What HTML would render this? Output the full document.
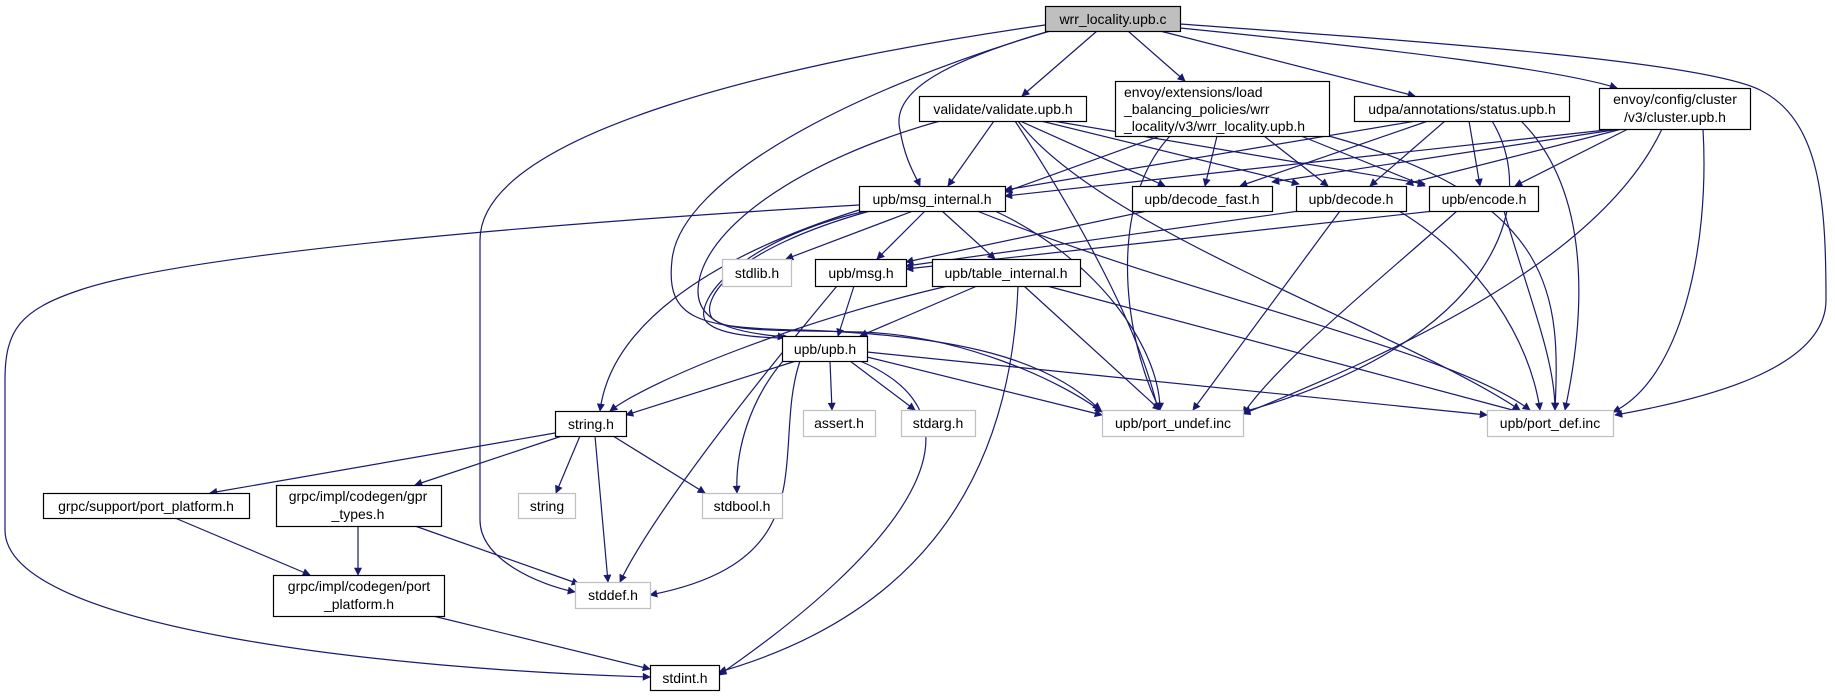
<!DOCTYPE html>
<html><head><meta charset="utf-8"><style>
html,body{margin:0;padding:0;background:#fff}
svg text{font-family:"Liberation Sans",sans-serif;font-size:14px;fill:#000}
</style></head><body>
<svg width="1835" height="693" viewBox="0 0 1835 693" xmlns="http://www.w3.org/2000/svg">
<defs><marker id="a" viewBox="0 0 10 10" refX="9" refY="5" markerWidth="10" markerHeight="8" markerUnits="userSpaceOnUse" orient="auto"><path d="M0,0L10,5L0,10z" fill="#191970"/></marker></defs>
<g fill="none" stroke="#191970" stroke-width="1.2" marker-end="url(#a)">
<path d="M1097,31L1022,96"/>
<path d="M1128,31L1185,81"/>
<path d="M1160,31L1415,96"/>
<path d="M1180,28C1400,50 1560,70 1617,88"/>
<path d="M1180,24C1400,40 1700,60 1760,90C1820,120 1826,200 1826,300C1826,370 1700,400 1615,415"/>
<path d="M1050,31C850,90 680,180 672,260C665,320 700,328 800,330C960,335 1050,360 1100,410"/>
<path d="M1045,25C800,60 480,130 480,240L480,520C480,560 540,585 575,592"/>
<path d="M1050,31C950,60 890,90 900,130C905,160 915,175 920,186"/>
<path d="M994,121L948,186"/>
<path d="M1020,121L1165,186"/>
<path d="M1041,121L1299,184"/>
<path d="M1053,121L1425,184"/>
<path d="M1018,121C1100,230 1400,330 1520,410"/>
<path d="M1015,121C1080,220 1140,330 1158,410"/>
<path d="M940,121C800,160 700,230 698,290C697,325 740,333 785,337"/>
<path d="M1160,136L1005,192"/>
<path d="M1217,136L1205,186"/>
<path d="M1264,136L1328,186"/>
<path d="M1301,136L1425,186"/>
<path d="M1329,136C1560,200 1560,300 1555,410"/>
<path d="M1170,136C1110,200 1120,330 1160,410"/>
<path d="M1416,121L1005,190"/>
<path d="M1428,121L1240,186"/>
<path d="M1445,121L1370,186"/>
<path d="M1469,121L1480,186"/>
<path d="M1492,121C1540,200 1500,340 1243,412"/>
<path d="M1521,121C1600,200 1580,340 1565,410"/>
<path d="M1615,129L1005,196"/>
<path d="M1620,129L1272,182"/>
<path d="M1622,129L1406,184"/>
<path d="M1628,129L1515,186"/>
<path d="M1662,129C1600,260 1400,350 1243,414"/>
<path d="M1703,129C1710,250 1680,380 1613,412"/>
<path d="M913,211L786,259"/>
<path d="M925,211L877,259"/>
<path d="M942,211L995,259"/>
<path d="M866,211C740,240 695,300 705,320C715,335 760,338 790,338"/>
<path d="M859,210C700,260 610,330 600,411"/>
<path d="M859,205C600,220 200,250 80,290C20,310 5,330 5,380L5,530C5,630 400,670 650,677"/>
<path d="M995,211C1100,260 1160,350 1160,410"/>
<path d="M977,211C1200,300 1450,350 1530,410"/>
<path d="M870,211C730,250 700,300 712,318C725,333 790,330 860,332C960,335 1060,380 1102,412"/>
<path d="M1147,211L906,262"/>
<path d="M1299,211L906,266"/>
<path d="M1434,211L906,269"/>
<path d="M1340,211L1193,410"/>
<path d="M1399,211C1480,260 1530,340 1540,410"/>
<path d="M1457,211C1380,280 1280,360 1243,414"/>
<path d="M1504,211C1530,300 1555,360 1555,410"/>
<path d="M854,286L838,336"/>
<path d="M837,286C700,450 640,540 620,582"/>
<path d="M977,286L860,336"/>
<path d="M948,286C800,320 650,380 610,411"/>
<path d="M1018,286C1010,500 900,620 719,672"/>
<path d="M1024,286L1160,410"/>
<path d="M1047,286L1520,412"/>
<path d="M796,361L626,415"/>
<path d="M830,361L832,410"/>
<path d="M850,361L915,410"/>
<path d="M783,361C750,400 735,450 737,493"/>
<path d="M800,361C770,450 830,560 650,595"/>
<path d="M860,361C1000,420 900,550 719,675"/>
<path d="M867,357L1102,415"/>
<path d="M867,352L1487,415"/>
<path d="M555,433L210,493"/>
<path d="M562,436L415,485"/>
<path d="M580,436L556,493"/>
<path d="M595,436L608,582"/>
<path d="M613,436L705,493"/>
<path d="M175,518L310,575"/>
<path d="M358,526L358,575"/>
<path d="M415,526L579,584"/>
<path d="M433,616L650,669"/>
</g>
<g stroke-width="1.2">
<rect x="1045.5" y="6.5" width="135" height="25" fill="#bfbfbf" stroke="#000"/>
<text x="1113" y="24" text-anchor="middle">wrr_locality.upb.c</text>
<rect x="919.5" y="96.5" width="167" height="25" fill="#fff" stroke="#000"/>
<text x="1003" y="114" text-anchor="middle">validate/validate.upb.h</text>
<rect x="1115.5" y="81.5" width="214" height="55" fill="#fff" stroke="#000"/>
<text x="1124" y="97">envoy/extensions/load</text>
<text x="1124" y="114">_balancing_policies/wrr</text>
<text x="1124" y="131">_locality/v3/wrr_locality.upb.h</text>
<rect x="1354.5" y="96.5" width="215" height="25" fill="#fff" stroke="#000"/>
<text x="1462" y="114" text-anchor="middle">udpa/annotations/status.upb.h</text>
<rect x="1599.5" y="88.5" width="151" height="41" fill="#fff" stroke="#000"/>
<text x="1675" y="104" text-anchor="middle">envoy/config/cluster</text>
<text x="1675" y="122" text-anchor="middle">/v3/cluster.upb.h</text>
<rect x="859.5" y="186.5" width="146" height="25" fill="#fff" stroke="#000"/>
<text x="932" y="204" text-anchor="middle">upb/msg_internal.h</text>
<rect x="1132.5" y="186.5" width="140" height="25" fill="#fff" stroke="#000"/>
<text x="1202" y="204" text-anchor="middle">upb/decode_fast.h</text>
<rect x="1296.5" y="186.5" width="110" height="25" fill="#fff" stroke="#000"/>
<text x="1351" y="204" text-anchor="middle">upb/decode.h</text>
<rect x="1429.5" y="186.5" width="109" height="25" fill="#fff" stroke="#000"/>
<text x="1484" y="204" text-anchor="middle">upb/encode.h</text>
<rect x="722.5" y="259.5" width="69" height="27" fill="#fff" stroke="#bfbfbf"/>
<text x="757" y="278" text-anchor="middle">stdlib.h</text>
<rect x="815.5" y="259.5" width="91" height="27" fill="#fff" stroke="#000"/>
<text x="861" y="278" text-anchor="middle">upb/msg.h</text>
<rect x="932.5" y="259.5" width="148" height="27" fill="#fff" stroke="#000"/>
<text x="1006" y="278" text-anchor="middle">upb/table_internal.h</text>
<rect x="782.5" y="336.5" width="85" height="25" fill="#fff" stroke="#000"/>
<text x="825" y="354" text-anchor="middle">upb/upb.h</text>
<rect x="803.5" y="410.5" width="72" height="26" fill="#fff" stroke="#bfbfbf"/>
<text x="839" y="428" text-anchor="middle">assert.h</text>
<rect x="901.5" y="410.5" width="74" height="26" fill="#fff" stroke="#bfbfbf"/>
<text x="938" y="428" text-anchor="middle">stdarg.h</text>
<rect x="1102.5" y="410.5" width="141" height="26" fill="#fff" stroke="#bfbfbf"/>
<text x="1173" y="428" text-anchor="middle">upb/port_undef.inc</text>
<rect x="1487.5" y="410.5" width="126" height="26" fill="#fff" stroke="#bfbfbf"/>
<text x="1550" y="428" text-anchor="middle">upb/port_def.inc</text>
<rect x="555.5" y="411.5" width="71" height="25" fill="#fff" stroke="#000"/>
<text x="591" y="429" text-anchor="middle">string.h</text>
<rect x="43.5" y="493.5" width="206" height="25" fill="#fff" stroke="#000"/>
<text x="146" y="511" text-anchor="middle">grpc/support/port_platform.h</text>
<rect x="276.5" y="485.5" width="165" height="41" fill="#fff" stroke="#000"/>
<text x="358" y="501" text-anchor="middle">grpc/impl/codegen/gpr</text>
<text x="358" y="519" text-anchor="middle">_types.h</text>
<rect x="518.5" y="493.5" width="57" height="25" fill="#fff" stroke="#bfbfbf"/>
<text x="547" y="511" text-anchor="middle">string</text>
<rect x="702.5" y="493.5" width="80" height="25" fill="#fff" stroke="#bfbfbf"/>
<text x="742" y="511" text-anchor="middle">stdbool.h</text>
<rect x="273.5" y="575.5" width="171" height="41" fill="#fff" stroke="#000"/>
<text x="359" y="591" text-anchor="middle">grpc/impl/codegen/port</text>
<text x="359" y="609" text-anchor="middle">_platform.h</text>
<rect x="575.5" y="582.5" width="75" height="26" fill="#fff" stroke="#bfbfbf"/>
<text x="613" y="600" text-anchor="middle">stddef.h</text>
<rect x="650.5" y="665.5" width="69" height="25" fill="#fff" stroke="#000"/>
<text x="685" y="683" text-anchor="middle">stdint.h</text>
</g>
</svg>
</body></html>
